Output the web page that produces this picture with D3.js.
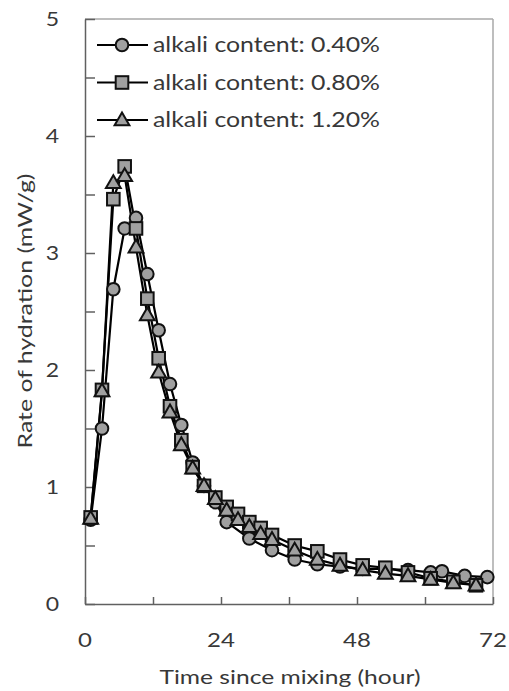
<!DOCTYPE html>
<html><head><meta charset="utf-8">
<script src="https://cdn.jsdelivr.net/npm/d3@7"></script>
<style>body{margin:0;background:#fff;} text{font-family:Lato,"Open Sans",sans-serif;fill:#383838;}</style>
</head><body>
<svg id="chart" width="509" height="691"></svg>
<script>
const seriesNames = ["alkali content: 0.40%","alkali content: 0.80%","alkali content: 1.20%"];
const t040 = [1,3,5,7,9,11,13,15,17,19,21,23,25,29,33,37,41,45,49,53,57,61,63,67,71];
const v040 = [0.72,1.50,2.69,3.21,3.30,2.82,2.34,1.88,1.53,1.21,1.01,0.87,0.70,0.56,0.46,0.38,0.34,0.32,0.30,0.30,0.29,0.27,0.28,0.24,0.23];
const t080 = [1,3,5,7,9,11,13,15,17,19,21,23,25,27,29,31,33,37,41,45,49,53,57,61,65,69];
const v080 = [0.74,1.83,3.46,3.74,3.21,2.61,2.10,1.69,1.40,1.17,1.01,0.91,0.83,0.77,0.70,0.65,0.59,0.50,0.45,0.38,0.33,0.31,0.27,0.22,0.19,0.16];
const t120 = [1,3,5,7,9,11,13,15,17,19,21,23,25,27,29,31,33,37,41,45,49,53,57,61,65,69];
const v120 = [0.73,1.82,3.60,3.66,3.05,2.47,1.98,1.64,1.36,1.16,1.01,0.90,0.80,0.72,0.66,0.60,0.55,0.46,0.38,0.33,0.29,0.26,0.24,0.21,0.18,0.16];
const xTicks = [0,12,24,36,48,60,72];
const xLabels = [0,24,48,72];
const yTicks = [0,0.5,1,1.5,2,2.5,3,3.5,4,4.5,5];
const yLabels = [0,1,2,3,4,5];
const markers = ["circle","square","triangle"];

const series = [
  {name: seriesNames[0], t: t040, v: v040, m: markers[0]},
  {name: seriesNames[1], t: t080, v: v080, m: markers[1]},
  {name: seriesNames[2], t: t120, v: v120, m: markers[2]}
];

const svg = d3.select("#chart");
const L = 85, R = 493, T = 19, B = 604;
const x = d3.scaleLinear().domain([0,72]).range([L,R]);
const y = d3.scaleLinear().domain([0,5]).range([B,T]);

function stretch(sel, k){
  sel.each(function(){
    const w = this.getComputedTextLength();
    d3.select(this).attr("textLength", w*k).attr("lengthAdjust","spacingAndGlyphs");
  });
}

// frame top/right
svg.append("line").attr("x1",L).attr("x2",R).attr("y1",T).attr("y2",T).attr("stroke","#a8a8a8").attr("stroke-width",1.5);
svg.append("line").attr("x1",R).attr("x2",R).attr("y1",T).attr("y2",B).attr("stroke","#a8a8a8").attr("stroke-width",1.5);

// axes
const xAxis = d3.axisBottom(x).tickValues(xTicks).tickSizeInner(-7).tickSizeOuter(0).tickFormat("");
const gx = svg.append("g").attr("transform",`translate(0,${B})`).call(xAxis);
const yAxis = d3.axisLeft(y).tickValues(yTicks).tickSizeInner(-10).tickSizeOuter(0).tickFormat("");
const gy = svg.append("g").attr("transform",`translate(${L},0)`).call(yAxis);
[gx,gy].forEach(g=>{g.selectAll("path,line").attr("stroke","#606060").attr("stroke-width",1.5);});

const xl = svg.selectAll(".xl").data(xLabels).enter().append("text")
  .attr("x",d=>x(d)).attr("y",B+43).attr("text-anchor","middle").attr("font-size",20).text(d=>d);
stretch(xl,1.2);
const yl = svg.selectAll(".yl").data(yLabels).enter().append("text")
  .attr("x",L-26).attr("y",d=>y(d)+7).attr("text-anchor","end").attr("font-size",20).text(d=>d);
stretch(yl,1.15);

svg.append("text").attr("x",290).attr("y",684).attr("text-anchor","middle").attr("font-size",20)
  .attr("textLength",261).attr("lengthAdjust","spacingAndGlyphs").text("Time since mixing (hour)");
svg.append("text").attr("transform","translate(32,311) rotate(-90)").attr("text-anchor","middle").attr("font-size",20)
  .attr("textLength",275).attr("lengthAdjust","spacingAndGlyphs").text("Rate of hydration (mW/g)");

const line = d3.line().x(d=>x(d[0])).y(d=>y(d[1]));
const fill = "#a0a0a0";
function drawMarker(g, type, cx, cy){
  if(type==="circle") g.append("circle").attr("cx",cx).attr("cy",cy).attr("r",6.3);
  else if(type==="square") g.append("rect").attr("x",cx-6.3).attr("y",cy-6.3).attr("width",12.6).attr("height",12.6);
  else g.append("path").attr("d",d3.symbol(d3.symbolTriangle,95)()).attr("transform",`translate(${cx},${cy+1})`);
}
series.forEach(s=>{
  const pts = s.t.map((t,i)=>[t,s.v[i]]);
  svg.append("path").datum(pts).attr("d",line).attr("fill","none").attr("stroke","#000").attr("stroke-width",2.2);
});
series.forEach(s=>{
  const g = svg.append("g").attr("fill",fill).attr("stroke","#111").attr("stroke-width",2);
  s.t.forEach((t,i)=>drawMarker(g,s.m,x(t),y(s.v[i])));
});

// legend
series.forEach((s,i)=>{
  const ly = 45 + i*37.5;
  svg.append("line").attr("x1",97).attr("x2",148).attr("y1",ly).attr("y2",ly).attr("stroke","#000").attr("stroke-width",2.2);
  const g = svg.append("g").attr("fill",fill).attr("stroke","#111").attr("stroke-width",2);
  drawMarker(g,s.m,122,ly);
  svg.append("text").attr("x",153).attr("y",ly+7).attr("font-size",21)
    .attr("textLength",227).attr("lengthAdjust","spacingAndGlyphs").text(s.name);
});
</script>
</body></html>
